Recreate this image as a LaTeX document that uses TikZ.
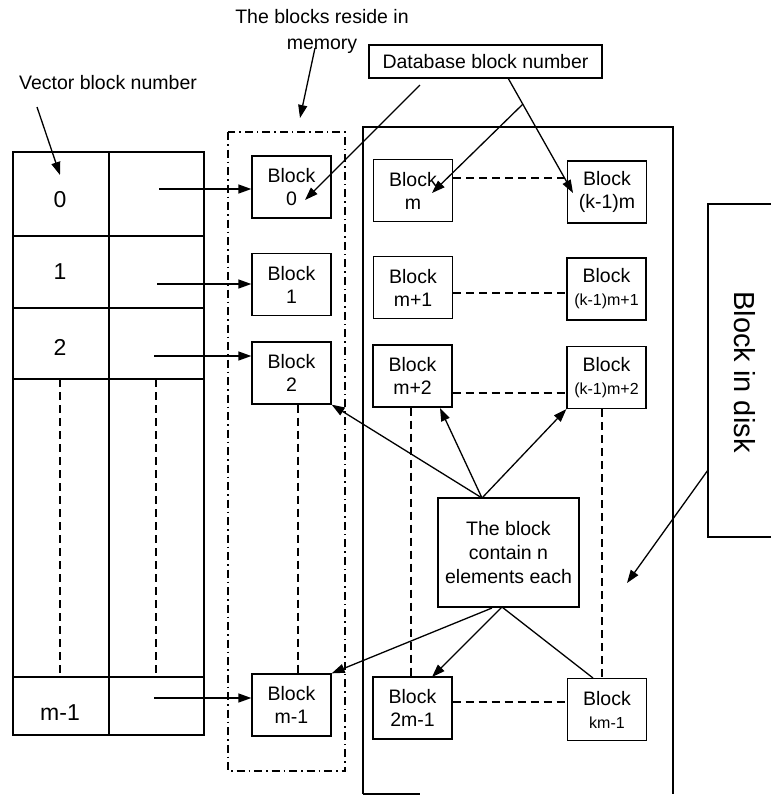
\documentclass[tikz,border=0pt]{standalone}
\usepackage{fontspec}
\setmainfont{Liberation Sans}
\usetikzlibrary{arrows.meta}
\begin{document}
\begin{tikzpicture}[x=1pt,y=-1pt,
  line width=1.3pt,
  blk/.style={draw, minimum width=79pt, minimum height=62pt, inner sep=0pt, align=center, font=\fontsize{19.5}{23}\selectfont},
  lbl/.style={font=\fontsize{19.5}{26}\selectfont, align=center, inner sep=0pt},
  cell/.style={font=\fontsize{23}{26}\selectfont, inner sep=0pt},
  arr/.style={-{Triangle[length=13pt,width=9pt]}},
  dsh/.style={dash pattern=on 8pt off 5pt},
  ddot/.style={dash pattern=on 8pt off 4pt on 1.5pt off 4pt}]
\useasboundingbox (0,0) rectangle (771,796);

% labels
\node[lbl] (mem) at (322,31.5) {The blocks reside in\\memory};
\node[lbl] (vec) at (108,83) {Vector block number};
\node[draw, lbl, minimum width=233pt, minimum height=33pt] (db) at (485.5,61.5) {Database block number};

% vector table
\draw (13,152) rectangle (204,735);
\draw (109,152) -- (109,735);
\foreach \yy in {236,308,379,677} \draw (13,\yy) -- (204,\yy);
\draw[dsh] (60,379) -- (60,677);
\draw[dsh] (156,379) -- (156,677);
\node[cell] (v0) at (60,200) {0};
\node[cell] (v1) at (60,272) {1};
\node[cell] (v2) at (60,347) {2};
\node[cell] (vm) at (60,713) {m-1};

% memory container
\draw[ddot] (228,132) rectangle (345,771);
% disk container
\draw (363,794) -- (363,127) -- (673,127) -- (673,794);
\draw (363,794) -- (420,794);

% memory blocks
\node[blk] (b0) at (291.5,187) {Block\\0};
\node[blk] (b1) at (291.5,284.5) {Block\\1};
\node[blk] (b2) at (291.5,373) {Block\\2};
\node[blk] (bm1) at (291.5,705) {Block\\m-1};

% disk blocks
\node[blk] (dm) at (413,190.5) {Block\\m};
\node[blk] (dk) at (607,192) {Block\\(k-1)m};
\node[blk] (dm1) at (413,287.5) {Block\\m+1};
\node[blk] (dk1) at (606.5,289) {Block\\{\fontsize{16}{19}\selectfont (k-1)m+1}};
\node[blk] (dm2) at (412.5,376) {Block\\m+2};
\node[blk] (dk2) at (606.5,377.5) {Block\\{\fontsize{16}{19}\selectfont (k-1)m+2}};
\node[blk] (d2m) at (412.5,708) {Block\\2m-1};
\node[blk] (dkm) at (607,709.5) {Block\\{\fontsize{16}{19}\selectfont km-1}};

% central note
\node[draw, minimum width=141pt, minimum height=109pt, inner sep=0pt, align=center, font=\fontsize{19.5}{24}\selectfont] (c) at (508.5,552.5) {The block\\contain n\\elements each};

% block in disk label box
\draw (771,204) -- (708,204) -- (708,537) -- (771,537);
\node[lbl, font=\fontsize{29}{32}\selectfont, rotate=-90] (disk) at (745,372) {Block in disk};

% table -> memory arrows
\coordinate (p0) at (159,189);
\coordinate (p1) at (157,284);
\coordinate (p2) at (154,356);
\coordinate (p3) at (154,698);
\draw[arr] (p0) -- (p0 -| b0.west);
\draw[arr] (p1) -- (p1 -| b1.west);
\draw[arr] (p2) -- (p2 -| b2.west);
\draw[arr] (p3) -- (p3 -| bm1.west);

% label arrows
\coordinate (memS) at (315,48);
\coordinate (memT) at (300,118);
\draw[arr] (memS) -- (memT);
\coordinate (vecS) at (37,107);
\coordinate (vecT) at (60,175);
\draw[arr] (vecS) -- (vecT);

% database arrows
\coordinate (dbA) at (420,85);
\coordinate (b0t) at (305,200);
\draw[arr] (dbA) -- (b0t);
\coordinate (dbB) at (508,78);
\coordinate (dkt) at (573,193);
\draw[arr] (dbB) -- (dkt);
\coordinate (dbJ) at (523,104);
\coordinate (dmt) at (432,193);
\draw[arr] (dbJ) -- (dmt);

% dashed links
\draw[dsh] (dm.east |- 0,178) -- (dk.west |- 0,178);
\draw[dsh] (dm1.east |- 0,293) -- (dk1.west |- 0,293);
\draw[dsh] (dm2.east |- 0,393) -- (dk2.west |- 0,393);
\draw[dsh] (d2m.east |- 0,702) -- (dkm.west |- 0,702);
\draw[dsh] (b2.south -| 298,0) -- (bm1.north -| 298,0);
\draw[dsh] (dm2.south -| 411,0) -- (d2m.north -| 411,0);
\draw[dsh] (dk2.south -| 602,0) -- (dkm.north -| 602,0);

% central arrows
\coordinate (ct) at (482,498);
\coordinate (cb) at (502,607);
\coordinate (cbl) at (492,608);
\draw[arr] (ct) -- (b2.south east);
\draw[arr] (ct) -- (440,408);
\draw[arr] (ct) -- (dk2.south west);
\draw[arr] (cbl) -- (bm1.north east);
\draw[arr] (cb) -- (432,677);
\draw (cb) -- (593,678);

% disk arrow
\coordinate (dkS) at (708,470);
\coordinate (dkT) at (627,583);
\draw[arr] (dkS) -- (dkT);
\end{tikzpicture}
\end{document}
